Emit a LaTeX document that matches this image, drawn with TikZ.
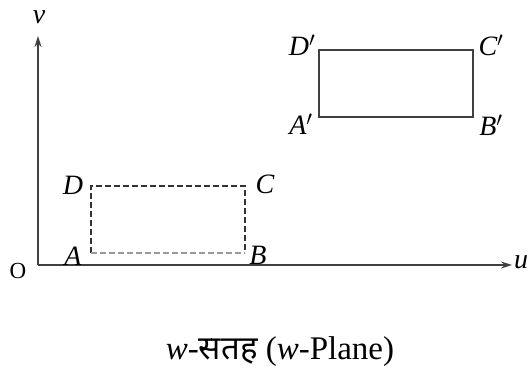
\documentclass[tikz,border=0pt]{standalone}
\usepackage{fontspec}
\setmainfont{Liberation Serif}
\newfontfamily\devfont[Script=Devanagari]{Noto Sans}
\usetikzlibrary{arrows.meta}
\begin{document}
\begin{tikzpicture}[x=1pt,y=-1pt,
  lbl/.style={font=\fontsize{28}{30}\selectfont\itshape, inner sep=0pt},
  axis/.style={draw=black!75, line width=1.8pt, -{Stealth[length=11pt,width=7pt]}},
  dashrect/.style={draw=black!80, line width=1.2pt, dash pattern=on 6pt off 3pt},
  solidrect/.style={draw=black!75, line width=1.2pt}]
\useasboundingbox (0,0) rectangle (528,383);
\fill[white] (0,0) rectangle (528,383);
% axes
\coordinate (O) at (38,265);
\coordinate (vtip) at (38,36);
\coordinate (utip) at (512,265);
\draw[axis] (O) -- (vtip);
\draw[axis] (O) -- (utip);
\node[lbl] (vl) at (39,17) {v};
\node[lbl, anchor=west] (ul) at (514,262) {u};
\node[font=\fontsize{23}{26}\selectfont, inner sep=0pt] (Ol) at (18,271) {O};
% dashed rectangle
\coordinate (A) at (91,253);
\coordinate (B) at (245,253);
\coordinate (C) at (245,186);
\coordinate (D) at (91,186);
\draw[dashrect] (A) -- (D) -- (C) -- (B);
\draw[dashrect, draw=black!40] (A) -- (B);
\node[lbl] (Al) at (73,256) {A};
\node[lbl] (Bl) at (258,255) {B};
\node[lbl] (Cl) at (265,184) {C};
\node[lbl] (Dl) at (73,185) {D};
% solid rectangle
\coordinate (A2) at (319,117);
\coordinate (B2) at (473,117);
\coordinate (C2) at (473,50);
\coordinate (D2) at (319,50);
\draw[solidrect] (A2) -- (B2) -- (C2) -- (D2) -- cycle;
\node[lbl] (A2l) at (301,124) {A$'$};
\node[lbl] (B2l) at (491,125) {B$'$};
\node[lbl] (C2l) at (491,45) {C$'$};
\node[lbl] (D2l) at (302,45) {D$'$};
% caption
\node[font=\fontsize{33}{36}\selectfont, inner sep=0pt] (cap) at (280,352) {\textit{w}-{\devfont सतह} (\textit{w}-Plane)};
\end{tikzpicture}
\end{document}
